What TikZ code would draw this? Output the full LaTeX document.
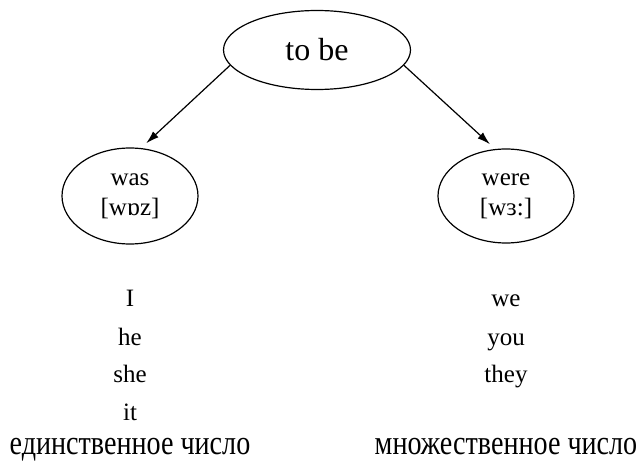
\documentclass[tikz,border=0pt]{standalone}
\usepackage{fontspec}
\setmainfont{Liberation Serif}
\newfontfamily\cyrfont[FakeStretch=0.815]{Liberation Serif}
\usetikzlibrary{shapes.geometric,arrows.meta}
\tikzset{
  oval/.style={ellipse,draw,line width=1.2pt,inner sep=0pt,align=center},
  word/.style={anchor=base,inner sep=0pt,font=\fontsize{25}{30}\selectfont},
  caption/.style={anchor=base,inner sep=0pt,font=\cyrfont\fontsize{34.5}{40}\selectfont},
  link/.style={line width=1.2pt,-{Latex[length=13pt,width=8pt]},shorten >=7pt}
}
\begin{document}
\begin{tikzpicture}[x=1pt,y=-1pt]
\useasboundingbox (0,0) rectangle (642,462);
\node[oval,minimum width=187pt,minimum height=79pt,font=\fontsize{32}{36}\selectfont] (top) at (317,50) {to be};
\node[oval,minimum width=136pt,minimum height=96pt,font=\fontsize{25}{30}\selectfont] (was) at (130,196) {was\\{}[wɒz]};
\node[oval,minimum width=136pt,minimum height=94pt,font=\fontsize{25}{30}\selectfont] (were) at (506,196) {were\\{}[wɜ:]};
\draw[link] (top.190) -- (was.77);
\draw[link] (top.350) -- (were.103);
\node[word] (pI) at (130,306) {I};
\node[word] (phe) at (130,345) {he};
\node[word] (pshe) at (130,382) {she};
\node[word] (pit) at (130,420) {it};
\node[caption] (sg) at (130,454) {единственное число};
\node[word] (pwe) at (506,306) {we};
\node[word] (pyou) at (506,345) {you};
\node[word] (pthey) at (506,382) {they};
\node[caption] (pl) at (506,454) {множественное число};
\end{tikzpicture}
\end{document}
